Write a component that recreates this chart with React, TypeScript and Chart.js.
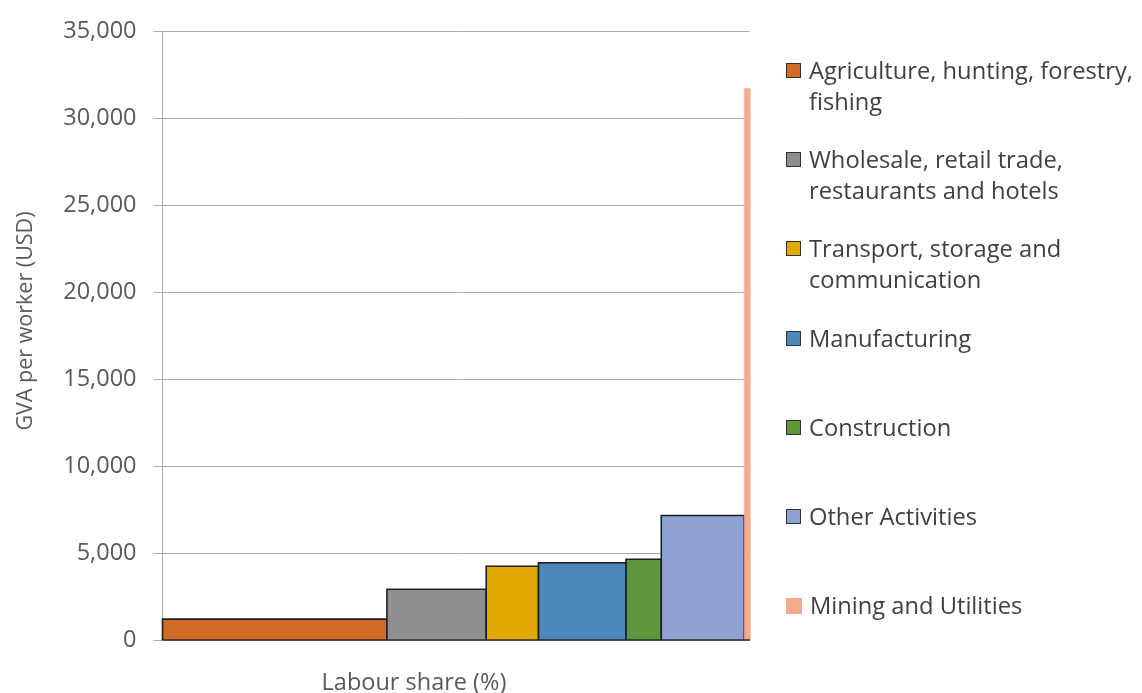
import React, { useEffect, useRef } from "react";
import { Chart, registerables } from "chart.js";

Chart.register(...registerables);

// ---- Data ----
const sectors = [
  "Agriculture, hunting, forestry, fishing",
  "Wholesale, retail trade, restaurants and hotels",
  "Transport, storage and communication",
  "Manufacturing",
  "Construction",
  "Other Activities",
  "Mining and Utilities",
];
const legendLines = [
  ["Agriculture, hunting, forestry,", "fishing"],
  ["Wholesale, retail trade,", "restaurants and hotels"],
  ["Transport, storage and", "communication"],
  ["Manufacturing"],
  ["Construction"],
  ["Other Activities"],
  ["Mining and Utilities"],
];
// labour share (% of workers) -> bar widths
const labourShare = [38.2, 16.9, 8.9, 14.9, 6.0, 14.1, 1.0];
// GVA per worker (USD) -> bar heights
const gvaPerWorker = [1200, 2920, 4240, 4440, 4640, 7160, 31700];
const fillColors = ["#D36C29", "#8E8E8E", "#E2AA00", "#4E87BC", "#5E963C", "#8FA2D3", "#F4AA8D"];
const hasBorder = [true, true, true, true, true, true, false];
const yMin = 0;
const yMax = 35000;
const yStep = 5000;
const xTitle = "Labour share (%)";
const yTitle = "GVA per worker (USD)";

const FONT = "'Open Sans', Lato, sans-serif";
const TEXT = "#595959";

function makeGreyPattern(): CanvasPattern | string {
  const c = document.createElement("canvas");
  c.width = 3;
  c.height = 3;
  const g = c.getContext("2d");
  if (!g) return "#8E8E8E";
  g.fillStyle = "#8C8C8C";
  g.fillRect(0, 0, 3, 3);
  g.fillStyle = "#979797";
  g.fillRect(0, 0, 1, 1);
  g.fillRect(1, 2, 1, 1);
  g.fillRect(2, 1, 1, 1);
  const p = g.createPattern(c, "repeat");
  return p || "#8E8E8E";
}

export default function App() {
  const ref = useRef<HTMLCanvasElement | null>(null);

  useEffect(() => {
    if (!ref.current) return;
    const total = labourShare.reduce((a, b) => a + b, 0);
    let start = 0;
    const datasets: any[] = sectors.map((name, i) => {
      const s = start;
      const e = start + labourShare[i];
      start = e;
      const v = gvaPerWorker[i];
      const fill = i === 1 ? makeGreyPattern() : fillColors[i];
      return {
        label: name,
        data: [
          { x: s, y: 0 },
          { x: s, y: v },
          { x: e, y: v },
          { x: e, y: 0 },
        ],
        backgroundColor: fill as any,
        borderColor: hasBorder[i] ? "#1f1f1f" : fillColors[i],
        borderWidth: hasBorder[i] ? 1.6 : 0.5,
        fill: "origin",
        pointRadius: 0,
        tension: 0,
        order: sectors.length - i,
        clip: false as any,
      };
    });
    // black baseline along the bottom of the bars
    datasets.push({
      label: "baseline",
      data: [
        { x: 0, y: 0 },
        { x: total, y: 0 },
      ],
      borderColor: "#2a2a2a",
      borderWidth: 1.6,
      fill: false,
      pointRadius: 0,
      order: -1,
      clip: false as any,
    });

    const chart = new Chart(ref.current, {
      type: "line",
      data: { datasets },
      options: {
        animation: false,
        responsive: false,
        layout: { padding: { top: 28, right: 78, left: 0, bottom: 53 } },
        plugins: {
          legend: { display: false },
          tooltip: { enabled: false },
          title: { display: false },
        },
        scales: {
          x: {
            type: "linear",
            min: 0,
            max: total,
            display: false,
          },
          y: {
            type: "linear",
            min: yMin,
            max: yMax,
            afterFit: (scale: any) => {
              scale.width = 162.5;
            },
            ticks: {
              stepSize: yStep,
              padding: 17,
              color: TEXT,
              font: { family: FONT, size: 23.5 },
              callback: (v: any) => Number(v).toLocaleString("en-US"),
            },
            grid: {
              color: "#ababab",
              lineWidth: 1,
              tickLength: 9,
              drawTicks: true,
            },
            border: { display: true, color: "#ababab", width: 1 },
            title: { display: false },
          },
        },
      },
    });
    return () => chart.destroy();
  }, []);

  return (
    <div
      style={{
        position: "fixed",
        left: 0,
        top: 0,
        width: 1142,
        height: 693,
        background: "#ffffff",
        overflow: "hidden",
        fontFamily: FONT,
      }}
    >
      <canvas
        ref={ref}
        width={828}
        height={693}
        style={{ position: "absolute", left: 0, top: 0, width: 828, height: 693 }}
      />
      {/* y-axis title */}
      <div
        style={{
          position: "absolute",
          left: 24 - 150,
          top: 321 - 15,
          width: 300,
          height: 30,
          lineHeight: "30px",
          textAlign: "center",
          fontSize: 21.5,
          color: TEXT,
          transform: "rotate(-90deg)",
          whiteSpace: "nowrap",
        }}
      >
        {yTitle}
      </div>
      {/* x-axis title */}
      <div
        style={{
          position: "absolute",
          left: 214,
          width: 400,
          top: 666,
          lineHeight: "30px",
          textAlign: "center",
          fontSize: 23.5,
          color: TEXT,
          whiteSpace: "nowrap",
        }}
      >
        {xTitle}
      </div>
      {legendLines.map((lines, i) => (
        <div
          key={i}
          style={{
            position: "absolute",
            left: 786,
            top: 55 + i * 89.2,
            display: "flex",
            alignItems: "flex-start",
          }}
        >
          <div
            style={{
              width: hasBorder[i] ? 13 : 16,
              height: hasBorder[i] ? 13 : 16,
              marginTop: 8,
              background: fillColors[i],
              border: hasBorder[i] ? "1.5px solid #333" : "none",
              flex: "none",
            }}
          />
          <div
            style={{
              marginLeft: 8,
              fontSize: 23.7,
              lineHeight: "31px",
              color: "#404040",
              whiteSpace: "nowrap",
            }}
          >
            {lines.map((l, j) => (
              <div key={j}>{l}</div>
            ))}
          </div>
        </div>
      ))}
    </div>
  );
}
